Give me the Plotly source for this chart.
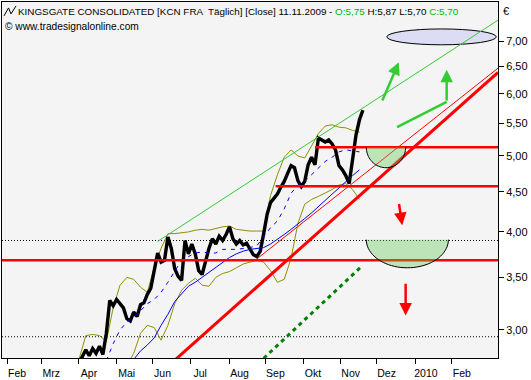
import numpy as np
import pandas as pd
import plotly.graph_objects as go

# ---------------- data ----------------
# daily close, sampled every 2 trading days from 2009-04-01
close_start = "2009-04-01"
close = [2.72, 2.78, 2.83, 2.78, 2.84, 2.80, 2.86, 2.79, 2.97, 3.27,
         3.22, 3.28, 3.24, 3.20, 3.10, 3.08, 3.16, 3.12, 3.23, 3.25,
         3.33, 3.39, 3.57, 3.76, 3.66, 3.68, 3.94, 3.81, 3.59, 3.51,
         3.47, 3.90, 3.75, 3.86, 3.75, 3.57, 3.53, 3.68, 3.81, 3.92,
         3.86, 3.95, 3.90, 3.97, 4.06, 3.92, 3.86, 3.90, 3.85, 3.87,
         3.81, 3.74, 3.72, 3.78, 3.98, 4.21, 4.36, 4.42, 4.47, 4.56,
         4.64, 4.75, 4.86, 4.83, 4.65, 4.57, 4.64, 4.87, 4.98, 4.87,
         5.27, 5.24, 5.21, 5.24, 5.18, 5.09, 4.86, 4.80, 4.72, 4.61,
         4.95, 5.32, 5.56, 5.72]

# indicators, sampled every 4 trading days
upper_start = "2009-04-01"
upper_band = [2.75, 2.95, 2.96, 2.95, 2.90, 3.20, 3.42, 3.50, 3.48, 3.40,
              3.35, 3.61, 3.81, 3.98, 3.98, 3.99, 4.00, 4.02, 4.03, 4.02,
              4.04, 4.06, 4.07, 4.03, 4.02, 4.01, 4.01, 4.01, 4.45, 4.73,
              4.98, 5.09, 5.00, 4.97, 5.15, 5.34, 5.46, 5.48, 5.44, 5.43,
              5.39, 5.36]
lower_start = "2009-05-11"
lower_band = [2.70, 2.80, 2.97, 3.04, 3.02, 2.91, 3.04, 3.24, 3.37, 3.44,
              3.49, 3.42, 3.41, 3.50, 3.54, 3.56, 3.60, 3.64, 3.66, 3.68,
              3.66, 3.57, 3.45, 3.48, 3.70, 4.10, 4.34, 4.40, 4.44, 4.48,
              4.53, 4.59, 4.61, 4.53, 4.40]
ma_short_start = "2009-04-23"
ma_short = [2.74, 2.88, 3.00, 3.07, 3.11, 3.17, 3.24, 3.28, 3.35, 3.45,
            3.57, 3.68, 3.72, 3.76, 3.77, 3.76, 3.76, 3.80, 3.80, 3.80,
            3.81, 3.82, 3.84, 3.94, 4.05, 4.13, 4.28, 4.48, 4.59, 4.64,
            4.73, 4.82, 4.92, 4.98, 5.06, 5.09, 5.08, 5.06]
ma_long_start = "2009-05-15"
ma_long = [2.75, 2.82, 2.87, 2.93, 3.04, 3.14, 3.26, 3.33, 3.41, 3.45,
           3.50, 3.56, 3.61, 3.66, 3.71, 3.75, 3.78, 3.80, 3.81, 3.82,
           3.86, 3.91, 3.97, 4.03, 4.09, 4.16, 4.23, 4.31, 4.40, 4.47,
           4.55, 4.64, 4.72, 4.80]

month_ticks = ["2009-02-02", "2009-03-02", "2009-04-01", "2009-05-01", "2009-06-01",
               "2009-07-01", "2009-08-03", "2009-09-01", "2009-10-01", "2009-11-02",
               "2009-12-01", "2010-01-01", "2010-02-01"]
month_labels = ["Feb", "Mrz", "Apr", "Mai", "Jun", "Jul", "Aug", "Sep", "Okt", "Nov",
                "Dez", "2010", "Feb"]
price_ticks = [3.0, 3.5, 4.0, 4.5, 5.0, 5.5, 6.0, 6.5, 7.0]

x_range = ["2009-01-28", "2010-03-10"]
y_range = [2.762, 7.858]

# trend lines
green_channel_dates = ["2009-06-04", "2010-03-10"]
green_channel_prices = [3.89, 7.45]
red_thin_dates = ["2009-08-24", "2010-03-10"]
red_thin_prices = [3.68, 6.47]
red_thick_dates = ["2009-06-16", "2010-03-10"]
red_thick_prices = [2.72, 6.39]
green_dotted_dates = ["2009-08-31", "2009-11-18"]
green_dotted_prices = [2.76, 3.61]

# horizontal levels
level_prices = [3.68, 4.575, 5.13]
level_starts = ["2009-01-28", "2009-09-09", "2009-10-12"]
dotted_levels = [3.90, 2.94]

# drawings
ellipse_dates = ["2009-12-09", "2010-03-09"]
ellipse_prices = [6.93, 7.26]
bowl_upper_dates = ["2009-11-23", "2009-12-24"]
bowl_upper_prices = [5.13, 4.83]
bowl_lower_dates = ["2009-11-23", "2010-01-28"]
bowl_lower_prices = [3.91, 3.60]
green_arrow1 = [("2009-12-04", 5.86), ("2009-12-18", 6.585)]
green_arrow2 = [("2009-12-17", 5.44), ("2010-01-27", 5.86), ("2010-01-27", 6.44)]
red_arrow1 = [("2009-12-18", 4.36), ("2009-12-22", 4.08)]
red_arrow2 = [("2009-12-24", 3.45), ("2009-12-24", 3.13)]

# ---------------- helpers ----------------
BASE = np.datetime64("2009-02-02")


def bx(d):
    return float(np.busday_count(BASE, np.datetime64(d)))


def ly(p):
    return float(np.log10(p))


def bdates(start, n, step):
    return pd.date_range(start=start, periods=n, freq=pd.offsets.BDay(step))


def half_ellipse(dates, prices, closed):
    x0, x1 = bx(dates[0]), bx(dates[1])
    cx, rx = (x0 + x1) / 2, (x1 - x0) / 2
    top, bot = ly(prices[0]), ly(prices[1])
    t = np.linspace(0, np.pi, 41)
    xs = cx - rx * np.cos(t)
    ys = top - (top - bot) * np.sin(t)
    path = "M " + " L ".join(f"{x:.4f},{y:.5f}" for x, y in zip(xs, ys))
    if closed:
        path += " Z"
    return path


# plot area in pixels (for text placement in paper coords)
PL, PR, PT, PB = 2, 498, 1, 360


def ppx(x):
    return (x - PL) / (PR - PL)


def ppy(y):
    return 1 - (y - PT) / (PB - PT)


OLIVE = "#8f8f00"
BLUE = "#0000ff"
RED = "#ff0000"
LGREEN = "#33cc33"

fig = go.Figure()

# dotted reference levels
for lv in dotted_levels:
    fig.add_trace(go.Scatter(x=x_range, y=[lv, lv], mode="lines",
                             line=dict(color="black", width=1, dash="1px,2px"),
                             hoverinfo="skip"))

# bollinger bands
fig.add_trace(go.Scatter(x=bdates(upper_start, len(upper_band), 4), y=upper_band,
                         mode="lines", line=dict(color=OLIVE, width=1)))
fig.add_trace(go.Scatter(x=bdates(lower_start, len(lower_band), 4), y=lower_band,
                         mode="lines", line=dict(color=OLIVE, width=1)))

# price
fig.add_trace(go.Scatter(x=bdates(close_start, len(close), 2), y=close, mode="lines",
                         line=dict(color="black", width=3.4)))

# moving averages
fig.add_trace(go.Scatter(x=bdates(ma_short_start, len(ma_short), 4), y=ma_short,
                         mode="lines", line=dict(color=BLUE, width=1, dash="4px,5px")))
fig.add_trace(go.Scatter(x=bdates(ma_long_start, len(ma_long), 4), y=ma_long,
                         mode="lines", line=dict(color=BLUE, width=1)))

# trend lines
fig.add_trace(go.Scatter(x=green_channel_dates, y=green_channel_prices, mode="lines",
                         line=dict(color=LGREEN, width=1)))
fig.add_trace(go.Scatter(x=red_thin_dates, y=red_thin_prices, mode="lines",
                         line=dict(color=RED, width=1)))
fig.add_trace(go.Scatter(x=red_thick_dates, y=red_thick_prices, mode="lines",
                         line=dict(color=RED, width=3)))
fig.add_trace(go.Scatter(x=green_dotted_dates, y=green_dotted_prices, mode="lines",
                         line=dict(color="#008000", width=3, dash="4px,4px")))

# horizontal support / resistance
for lv, st in zip(level_prices, level_starts):
    fig.add_trace(go.Scatter(x=[st, x_range[1]], y=[lv, lv], mode="lines",
                             line=dict(color=RED, width=2.5)))

# overlay axes dummy
fig.add_trace(go.Scatter(x=[], y=[], xaxis="x2", yaxis="y2"))

shapes = []
shapes.append(dict(type="circle", xref="x2", yref="y2",
                   x0=bx(ellipse_dates[0]), x1=bx(ellipse_dates[1]),
                   y0=ly(ellipse_prices[0]), y1=ly(ellipse_prices[1]),
                   fillcolor="#dcdcf4", line=dict(color="black", width=1), layer="below"))
for d, p in [(bowl_upper_dates, bowl_upper_prices), (bowl_lower_dates, bowl_lower_prices)]:
    shapes.append(dict(type="path", xref="x2", yref="y2", path=half_ellipse(d, p, True),
                       fillcolor="rgba(100,200,90,0.38)", line=dict(width=0), layer="above"))
    shapes.append(dict(type="path", xref="x2", yref="y2", path=half_ellipse(d, p, False),
                       fillcolor="rgba(0,0,0,0)", line=dict(color="black", width=1),
                       layer="above"))
shapes.append(dict(type="line", xref="x2", yref="y2",
                   x0=bx(green_arrow2[0][0]), y0=ly(green_arrow2[0][1]),
                   x1=bx(green_arrow2[1][0]), y1=ly(green_arrow2[1][1]),
                   line=dict(color=LGREEN, width=2.5)))

# title icon
icon_px = [(4, 15), (8.5, 7), (11, 13), (16, 5)]
icon_path = "M " + " L ".join(f"{ppx(x):.5f},{ppy(y):.5f}" for x, y in icon_px)
shapes.append(dict(type="path", xref="paper", yref="paper", path=icon_path,
                   line=dict(color="black", width=1), fillcolor="rgba(0,0,0,0)"))

annotations = []


def arrow(tail, tip, color):
    return dict(x=bx(tip[0]), y=ly(tip[1]), ax=bx(tail[0]), ay=ly(tail[1]),
                xref="x2", yref="y2", axref="x2", ayref="y2", text="",
                showarrow=True, arrowhead=2, arrowsize=1, arrowwidth=2.5,
                arrowcolor=color, standoff=0)


annotations.append(arrow(green_arrow1[0], green_arrow1[1], LGREEN))
annotations.append(arrow(green_arrow2[1], green_arrow2[2], LGREEN))
annotations.append(arrow(red_arrow1[0], red_arrow1[1], RED))
annotations.append(arrow(red_arrow2[0], red_arrow2[1], RED))

GTXT = "#00b400"
title_text = ("KINGSGATE CONSOLIDATED [KCN FRA \u00a0T\u00e4glich] [Close] 11.11.2009 - "
              f"<span style='color:{GTXT}'>O:5,75</span> H:5,87 L:5,70 "
              f"<span style='color:{GTXT}'>C:5,70</span>")
annotations.append(dict(x=ppx(16), y=ppy(11), xref="paper", yref="paper", text=title_text,
                        showarrow=False, xanchor="left", yanchor="middle",
                        font=dict(size=9.85, color="black")))
annotations.append(dict(x=ppx(3), y=ppy(26), xref="paper", yref="paper",
                        text="\u00a9 www.tradesignalonline.com",
                        showarrow=False, xanchor="left", yanchor="middle",
                        font=dict(size=10.2, color="black")))
annotations.append(dict(x=1, y=ppy(10), xref="paper", yref="paper", text="\u20ac",
                        showarrow=False, xanchor="left", yanchor="middle", xshift=3,
                        font=dict(size=11, color="black")))

fig.update_layout(
    width=531, height=380,
    margin=dict(l=PL, r=531 - PR, t=PT, b=380 - PB),
    paper_bgcolor="white", plot_bgcolor="#f4f4f4",
    showlegend=False, separators=",.",
    font=dict(family="Liberation Sans, Arial, sans-serif", size=11, color="black"),
    shapes=shapes, annotations=annotations,
    xaxis=dict(type="date", range=x_range, rangebreaks=[dict(bounds=["sat", "mon"])],
               tickmode="array", tickvals=month_ticks, ticktext=month_labels,
               ticks="outside", ticklen=5, tickcolor="black", showline=True,
               linecolor="black", linewidth=1, mirror=True, showgrid=False,
               zeroline=False, tickfont=dict(size=10.5), ticklabelshift=10),
    yaxis=dict(type="log", side="right", range=[np.log10(y_range[0]), np.log10(y_range[1])],
               tickmode="array", tickvals=price_ticks, tickformat=".2f",
               ticks="outside", ticklen=5, tickcolor="black", showline=True,
               linecolor="black", linewidth=1, mirror=True, showgrid=False,
               zeroline=False, tickfont=dict(size=11)),
    xaxis2=dict(overlaying="x", range=[bx(x_range[0]), bx(x_range[1])], visible=False,
                autorange=False),
    yaxis2=dict(overlaying="y", range=[ly(y_range[0]), ly(y_range[1])], visible=False,
                autorange=False),
)

fig.write_html("out.html", config={"displayModeBar": False},
               post_script="document.body.style.margin='0px';"
                           "document.body.style.overflow='hidden';")
